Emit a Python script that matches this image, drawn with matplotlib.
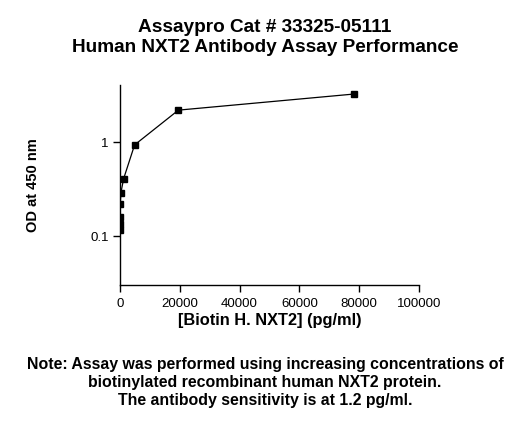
import matplotlib
matplotlib.use('Agg')
import matplotlib.pyplot as plt
from matplotlib.ticker import FixedLocator, NullLocator, FixedFormatter

plt.rcParams['font.family'] = ['Liberation Sans', 'DejaVu Sans']

# biotinylated NXT2 standard curve (4-fold dilutions)
conc = [1.2, 4.8, 19, 76, 305, 1221, 4883, 19531, 78125]
od = [0.116, 0.133, 0.161, 0.22, 0.29, 0.41, 0.94, 2.21, 3.28]

x_ticks = [0, 20000, 40000, 60000, 80000, 100000]
y_ticks = [0.1, 1]
y_tick_labels = ['0.1', '1']

fig = plt.figure(figsize=(5.3, 4.25), dpi=100)
ax = fig.add_axes([0.2264, 0.3294, 0.5642, 0.4706])

ax.plot(conc, od, color='black', linewidth=0.9, marker='s', markersize=4)

ax.set_yscale('log')
ax.set_xlim(0, 100000)
ax.set_ylim(0.03, 4.1)
ax.xaxis.set_major_locator(FixedLocator(x_ticks))
ax.yaxis.set_major_locator(FixedLocator(y_ticks))
ax.yaxis.set_major_formatter(FixedFormatter(y_tick_labels))
ax.yaxis.set_minor_locator(NullLocator())

for side in ['top', 'right']:
    ax.spines[side].set_visible(False)
for side in ['left', 'bottom']:
    ax.spines[side].set_linewidth(1.0)
ax.tick_params(direction='out', length=5, width=1.0, labelsize=9.5, pad=3)
ax.tick_params(axis='x', pad=4.5)

ax.set_xlabel('[Biotin H. NXT2] (pg/ml)', fontsize=11.8, fontweight='bold', labelpad=2)
ax.set_ylabel('OD at 450 nm', fontsize=10.5, fontweight='bold', labelpad=36)

fig.text(0.5, 1 - 27 / 425, 'Assaypro Cat # 33325-05111', ha='center', va='center',
         fontsize=13.7, fontweight='bold')
fig.text(0.5, 1 - 48 / 425, 'Human NXT2 Antibody Assay Performance', ha='center', va='center',
         fontsize=13.7, fontweight='bold')

note = ['Note: Assay was performed using increasing concentrations of',
        'biotinylated recombinant human NXT2 protein.',
        'The antibody sensitivity is at 1.2 pg/ml.']
for i, line in enumerate(note):
    fig.text(0.5, 1 - (364 + 18 * i) / 425, line, ha='center', va='center',
             fontsize=11.4, fontweight='bold')

fig.savefig('out.png', dpi=100)
